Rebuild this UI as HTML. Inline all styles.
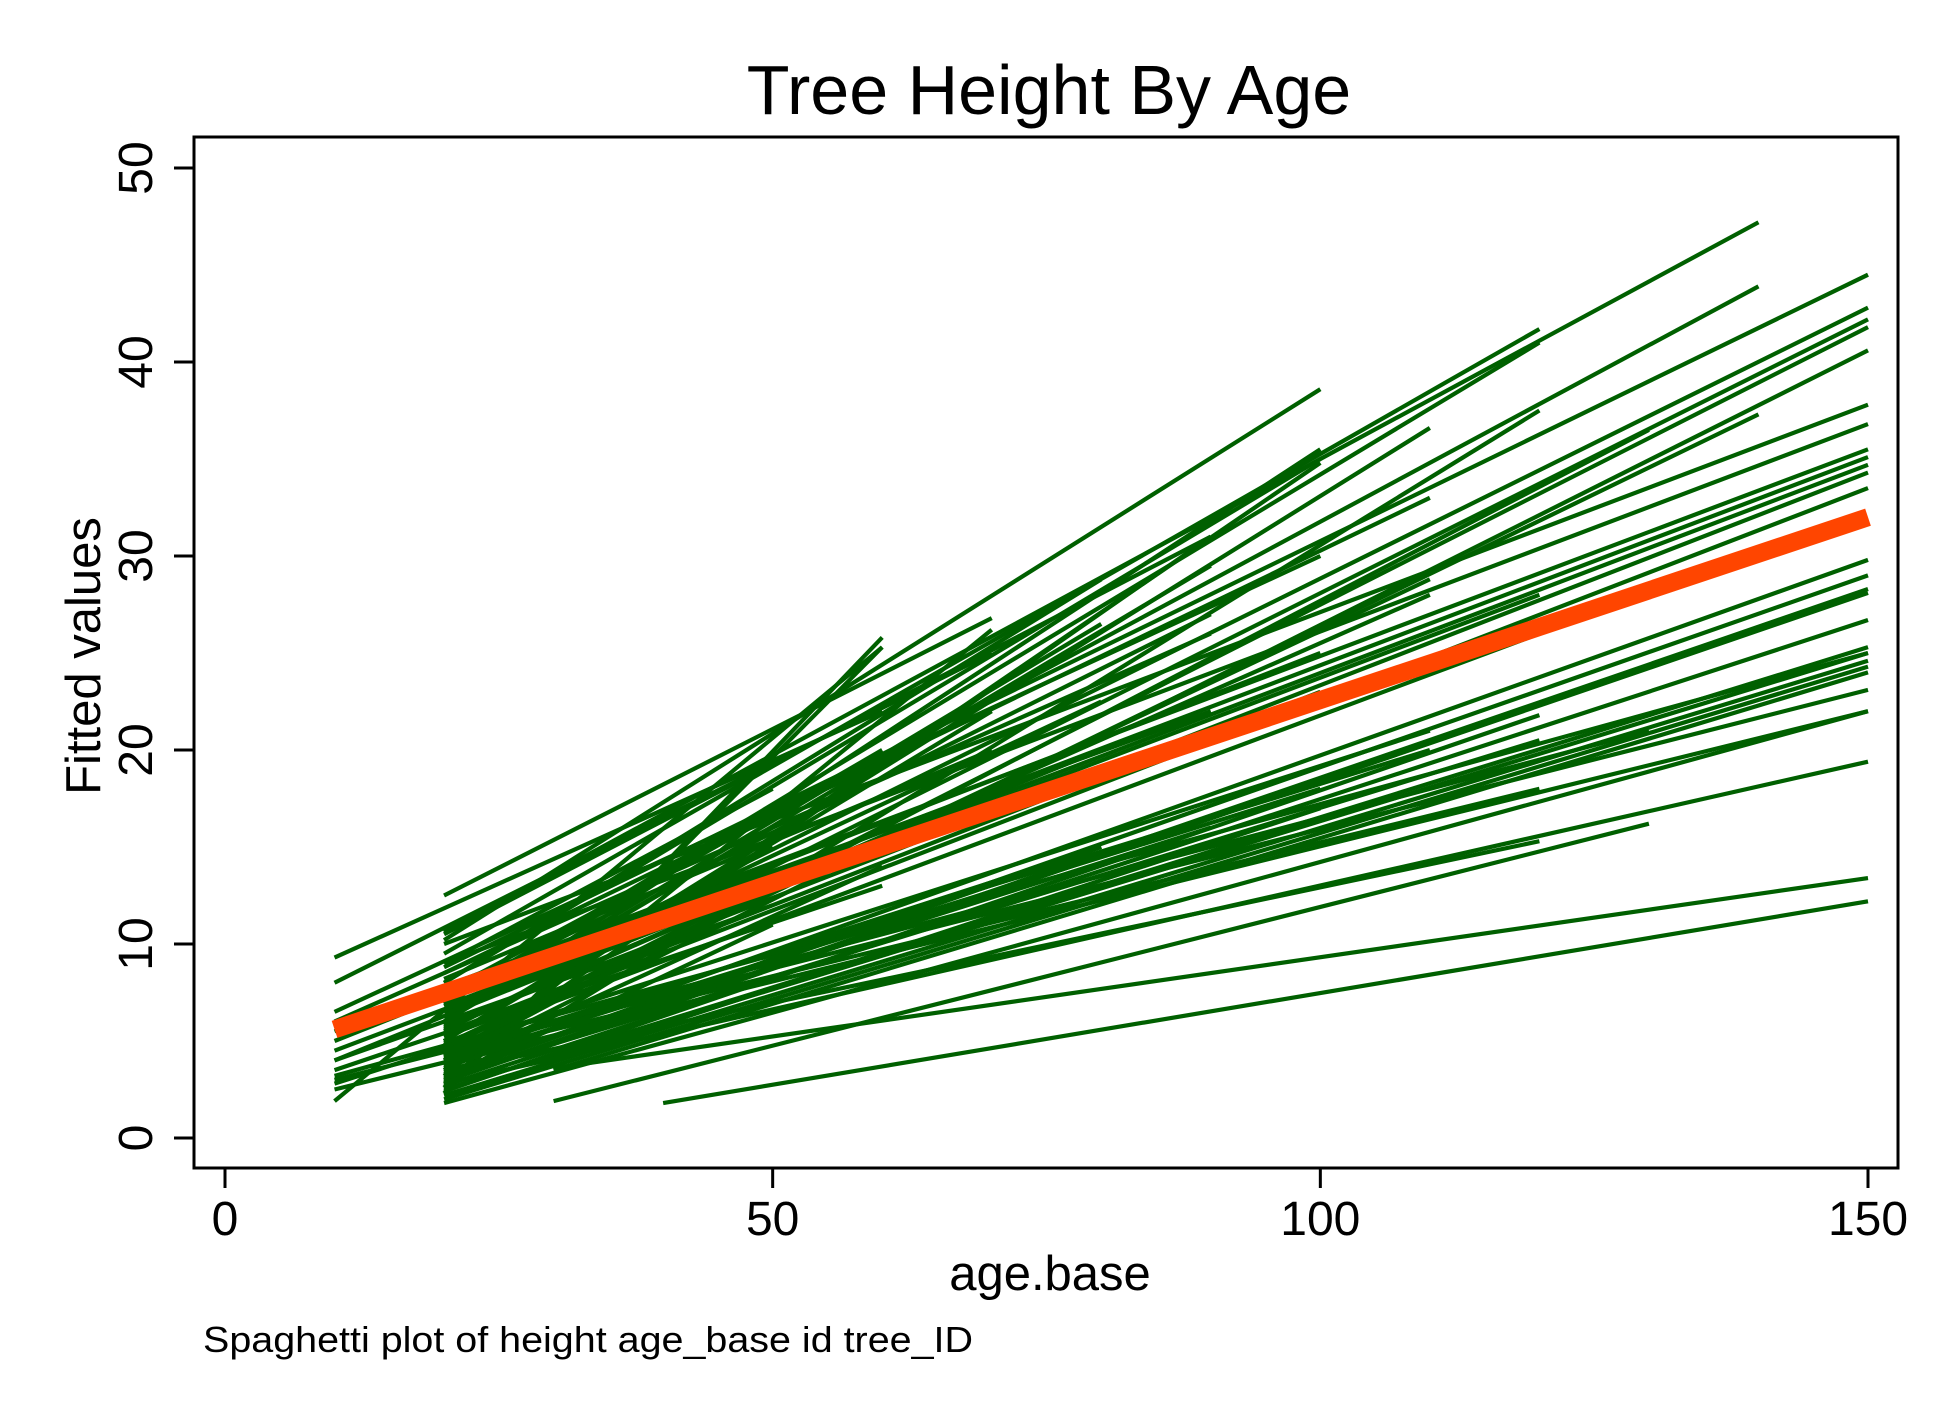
<!DOCTYPE html>
<html><head><meta charset="utf-8"><style>
html,body{margin:0;padding:0;background:#fff;}
svg{display:block;font-family:"Liberation Sans",Arial,sans-serif;}
</style></head><body>
<svg id="chart" width="1950" height="1418" viewBox="0 0 1950 1418" xmlns="http://www.w3.org/2000/svg">
<rect x="0" y="0" width="1950" height="1418" fill="#fff"/>
<text x="1049" y="114" font-size="70" text-anchor="middle">Tree Height By Age</text>
<g id="lines"></g>
<g id="fit"></g>
<rect x="194" y="137" width="1704" height="1031" fill="none" stroke="#000" stroke-width="3"/>
<g id="axes"></g>
<text transform="translate(100,656) rotate(-90)" font-size="49" text-anchor="middle">Fitted values</text>
<text x="1050" y="1290" font-size="49" text-anchor="middle">age.base</text>
<text x="203" y="1352" font-size="36" textLength="770" lengthAdjust="spacingAndGlyphs">Spaghetti plot of height age_base id tree_ID</text>
</svg>
<script>
const xTicks=[0,50,100,150];
const yTicks=[0,10,20,30,40,50];
const segStartAge=[10,10,10,10,10,10,10,10,10,10,10,10,20,20,20,20,20,20,20,20,20,20,20,20,20,20,20,20,20,20,20,20,20,20,20,20,20,20,20,20,20,20,20,20,20,20,20,20,20,20,20,20,20,20,20,20,20,20,20,20,20,20,20,20,20,30,30,30,30,40,20,20,10,10,20,20,20,10,20,30,20,20,20,20,20,20,20,20,20,20,20,20,20,20];
const segStartVal=[9.3,8.0,6.5,6.0,5.5,4.5,4.0,3.2,2.8,1.9,3.0,2.5,12.5,10.6,10.2,9.5,8.8,8.0,7.5,7.0,6.5,6.0,5.5,5.0,4.6,4.2,3.8,3.5,3.2,2.8,2.3,2.6,10.0,9.0,8.5,7.8,7.2,6.8,6.2,5.8,5.2,4.8,4.4,4.0,3.6,3.3,3.0,2.9,2.7,2.5,2.4,2.2,2.0,1.8,9.0,7.0,6.0,5.0,4.0,3.0,10.5,8.0,6.0,5.0,2.8,4.2,3.5,1.9,3.6,1.8,3.4,4.5,5.0,4.0,3.2,6.5,7.5,3.5,4.2,4.0,5.6,8.2,7.3,6.6,5.4,4.9,4.3,3.9,3.4,3.1,6.9,5.7,4.1,3.7];
const segEndAge=[60,70,100,90,90,120,80,150,110,60,150,150,70,140,100,120,150,80,140,120,150,100,150,110,150,130,150,90,70,120,60,60,150,150,110,150,150,150,80,150,150,110,140,100,150,150,150,150,150,150,120,150,150,150,50,50,50,50,50,50,90,100,90,70,150,150,150,130,150,150,120,130,50,50,80,80,100,60,120,100,110,70,90,80,100,120,110,100,90,120,60,70,80,60];
const segEndVal=[22.0,25.0,30.0,26.0,22.0,28.0,20.0,25.0,21.0,25.3,23.1,22.0,26.8,47.2,38.6,41.7,44.5,28.8,43.9,41.0,42.8,35.5,42.2,36.6,41.8,36.5,40.6,31.0,26.2,37.5,25.8,25.3,37.8,36.8,33.0,35.5,35.1,34.7,26.5,34.3,33.5,28.8,37.3,34.8,29.8,29.0,28.3,28.1,26.7,25.3,21.8,24.6,24.3,22.0,18.0,17.0,16.0,15.0,13.0,11.0,31.0,35.0,29.5,22.0,19.4,25.0,24.0,16.2,13.4,12.2,15.3,21.0,14.0,12.0,15.0,20.0,25.0,13.0,18.0,17.0,28.0,20.0,27.0,22.5,23.0,26.0,20.0,18.0,16.0,20.5,20.0,18.0,15.0,14.0];
const fitStart=[10,5.6];
const fitEnd=[150,32.0];
const NS="http://www.w3.org/2000/svg";
function xs(a){return 225+a*(1868-225)/150;}
function ys(v){return 1138-v*(1138-168)/50;}
const lg=document.getElementById('lines');
for(let i=0;i<segStartAge.length;i++){
  const l=document.createElementNS(NS,'line');
  
  
  l.setAttribute('x1',xs(segStartAge[i]));l.setAttribute('y1',ys(segStartVal[i]));
  l.setAttribute('x2',xs(segEndAge[i]));l.setAttribute('y2',ys(segEndVal[i]));
  l.setAttribute('stroke','#006000');l.setAttribute('stroke-width','4.2');
  lg.appendChild(l);
}
const f=document.createElementNS(NS,'line');


f.setAttribute('x1',xs(fitStart[0]));f.setAttribute('y1',ys(fitStart[1]));
f.setAttribute('x2',xs(fitEnd[0]));f.setAttribute('y2',ys(fitEnd[1]));
f.setAttribute('stroke','#ff4500');f.setAttribute('stroke-width','18');
document.getElementById('fit').appendChild(f);
const ax=document.getElementById('axes');
xTicks.forEach(t=>{
  const l=document.createElementNS(NS,'line');
  
  
  l.setAttribute('x1',xs(t));l.setAttribute('x2',xs(t));l.setAttribute('y1',1168);l.setAttribute('y2',1188);
  l.setAttribute('stroke','#000');l.setAttribute('stroke-width','3');ax.appendChild(l);
  const tx=document.createElementNS(NS,'text');
  
  
  tx.setAttribute('x',xs(t));tx.setAttribute('y',1235);tx.setAttribute('font-size','48');tx.setAttribute('text-anchor','middle');
  tx.textContent=t;ax.appendChild(tx);
});
yTicks.forEach(t=>{
  const l=document.createElementNS(NS,'line');
  
  
  l.setAttribute('x1',174);l.setAttribute('x2',194);l.setAttribute('y1',ys(t));l.setAttribute('y2',ys(t));
  l.setAttribute('stroke','#000');l.setAttribute('stroke-width','3');ax.appendChild(l);
  const tx=document.createElementNS(NS,'text');
  
  
  tx.setAttribute('transform','translate(152,'+ys(t)+') rotate(-90)');
  tx.setAttribute('font-size','48');tx.setAttribute('text-anchor','middle');
  tx.textContent=t;ax.appendChild(tx);
});
</script>
</body></html>
